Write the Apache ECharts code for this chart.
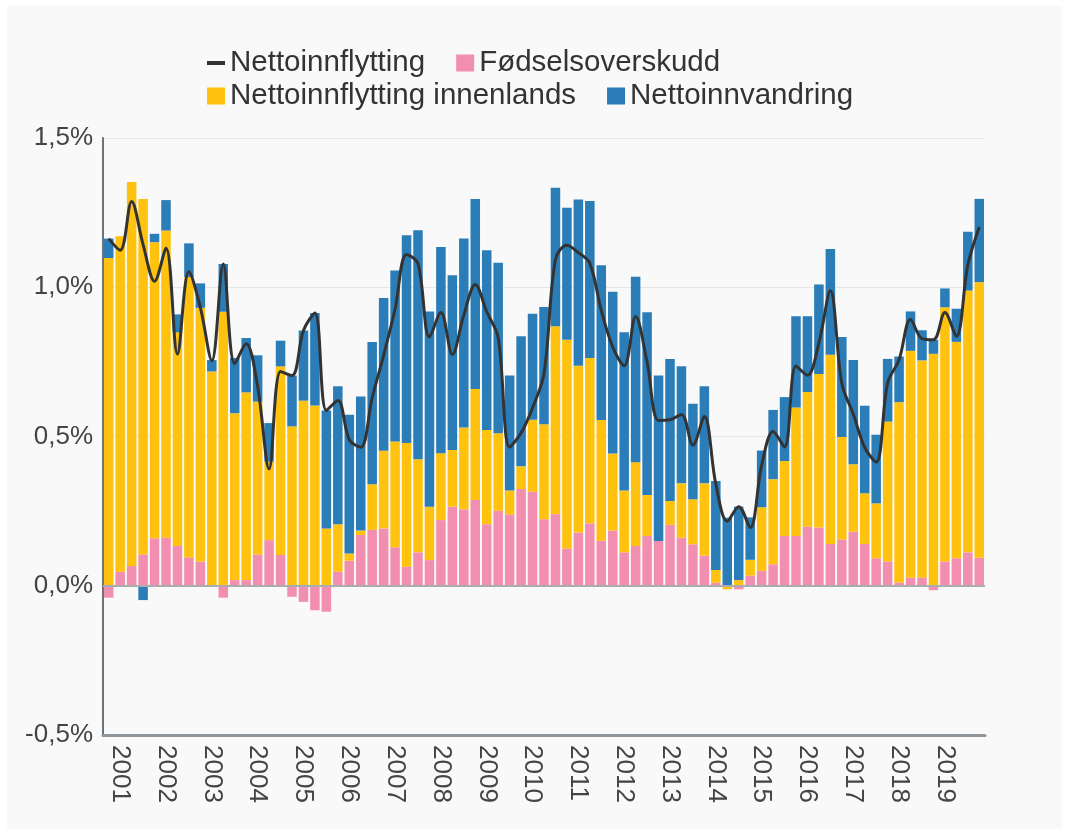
<!DOCTYPE html>
<html>
<head>
<meta charset="utf-8">
<script src="https://cdn.jsdelivr.net/npm/echarts@6/dist/echarts.min.js"></script>
<style>
  html, body { margin: 0; padding: 0; background: #ffffff; }
  #chart { position: absolute; left: 7px; top: 6px; width: 1055px; height: 823px; background: #f9f9f9; }
</style>
</head>
<body>
<div id="chart"></div>
<script>
// år på x-aksen (første kvartal er 2000K4)
const years = [2001, 2002, 2003, 2004, 2005, 2006, 2007, 2008, 2009, 2010,
  2011, 2012, 2013, 2014, 2015, 2016, 2017, 2018, 2019];

// prosent av folkemengden, per kvartal
const fodselsoverskudd = [
  -0.040, 0.047, 0.066, 0.105, 0.159, 0.161, 0.133, 0.095, 0.081, 0.002,
  -0.040, 0.019, 0.019, 0.105, 0.153, 0.103, -0.037, -0.054, -0.082, -0.087,
  0.047, 0.084, 0.170, 0.187, 0.192, 0.129, 0.064, 0.112, 0.086, 0.220,
  0.265, 0.256, 0.287, 0.206, 0.251, 0.239, 0.324, 0.315, 0.223, 0.240,
  0.125, 0.178, 0.209, 0.151, 0.185, 0.112, 0.133, 0.167, 0.150, 0.204,
  0.161, 0.139, 0.101, 0.010, 0.000, -0.012, 0.034, 0.050, 0.072, 0.167,
  0.167, 0.198, 0.195, 0.140, 0.155, 0.181, 0.140, 0.092, 0.081, 0.011,
  0.027, 0.028, -0.015, 0.081, 0.092, 0.112, 0.094
];

const innenlands = [
  1.098, 1.124, 1.287, 1.191, 0.992, 1.029, 0.716, 0.939, 0.850, 0.716,
  0.918, 0.559, 0.629, 0.512, 0.263, 0.632, 0.534, 0.620, 0.604, 0.192,
  0.159, 0.024, 0.015, 0.153, 0.260, 0.354, 0.414, 0.312, 0.179, 0.224,
  0.190, 0.274, 0.372, 0.316, 0.260, 0.080, 0.076, 0.241, 0.318, 0.629,
  0.699, 0.559, 0.554, 0.404, 0.258, 0.207, 0.281, 0.137, 0.000, 0.080,
  0.182, 0.151, 0.242, 0.043, -0.012, 0.019, 0.053, 0.213, 0.285, 0.251,
  0.430, 0.451, 0.514, 0.634, 0.343, 0.226, 0.170, 0.184, 0.469, 0.604,
  0.760, 0.727, 0.777, 0.852, 0.725, 0.877, 0.923
];

const innvandring = [
  0.065, 0.000, 0.000, -0.048, 0.028, 0.102, 0.060, 0.113, 0.082, 0.038,
  0.160, 0.185, 0.182, 0.155, 0.129, 0.086, 0.170, 0.235, 0.310, 0.395,
  0.462, 0.465, 0.449, 0.477, 0.512, 0.573, 0.696, 0.767, 0.654, 0.691,
  0.585, 0.633, 0.637, 0.602, 0.571, 0.385, 0.436, 0.355, 0.393, 0.464,
  0.442, 0.557, 0.526, 0.519, 0.542, 0.530, 0.621, 0.612, 0.554, 0.476,
  0.392, 0.320, 0.325, 0.298, 0.228, 0.246, 0.142, 0.190, 0.232, 0.214,
  0.306, 0.254, 0.300, 0.354, 0.335, 0.349, 0.293, 0.230, 0.210, 0.153,
  0.132, 0.101, 0.047, 0.063, 0.111, 0.197, 0.279
];

const nettoinnflytting = [
  1.163, 1.124, 1.287, 1.143, 1.020, 1.131, 0.776, 1.052, 0.932, 0.754,
  1.078, 0.744, 0.811, 0.667, 0.392, 0.718, 0.704, 0.855, 0.914, 0.587,
  0.621, 0.489, 0.464, 0.630, 0.772, 0.927, 1.110, 1.079, 0.833, 0.915,
  0.775, 0.907, 1.009, 0.918, 0.831, 0.465, 0.512, 0.596, 0.711, 1.093,
  1.141, 1.116, 1.080, 0.923, 0.800, 0.737, 0.902, 0.749, 0.554, 0.556,
  0.574, 0.471, 0.567, 0.341, 0.216, 0.265, 0.195, 0.403, 0.517, 0.465,
  0.736, 0.705, 0.814, 0.988, 0.678, 0.575, 0.463, 0.414, 0.679, 0.757,
  0.892, 0.828, 0.824, 0.915, 0.836, 1.074, 1.202
];

const yTicks = [-0.5, 0, 0.5, 1.0, 1.5];

// kvartalsetiketter
const kvartaler = ['2000K4'];
years.forEach(function (y) {
  for (let q = 1; q <= 4; q++) kvartaler.push(y + 'K' + q);
});

const FONT = '"Liberation Sans", Arial, sans-serif';

function legendRow(top, items) {
  return {
    left: 195, top: top,
    itemWidth: 18, itemHeight: 17, itemGap: 31,
    symbolKeepAspect: true,
    textStyle: { fontSize: 29.5, color: '#333', fontFamily: FONT, padding: [0, 0, 0, 0] },
    data: items
  };
}

function setChartOption() {
  return {
    animation: false,
    textStyle: { fontFamily: FONT },
    legend: [
      legendRow(37, [
        { name: 'Nettoinnflytting', icon: 'path://M0,0L18,0L18,4L0,4Z' },
        { name: 'Fødselsoverskudd', icon: 'rect' }
      ]),
      legendRow(70, [
        { name: 'Nettoinnflytting innenlands', icon: 'rect' },
        { name: 'Nettoinnvandring', icon: 'rect' }
      ])
    ],
    grid: { left: 96, right: 77, top: 132, bottom: 94 },
    xAxis: {
      type: 'category',
      data: kvartaler,
      axisLine: { onZero: false, lineStyle: { color: '#8f979c', width: 3 } },
      axisTick: { show: false },
      axisLabel: {
        interval: 0,
        rotate: -90,
        margin: 10,
        fontSize: 26,
        color: '#444',
        fontFamily: FONT,
        formatter: function (v) { return v.slice(4) === 'K1' ? v.slice(0, 4) : ''; }
      }
    },
    yAxis: {
      type: 'value',
      min: yTicks[0],
      max: yTicks[yTicks.length - 1],
      interval: 0.5,
      axisLine: { show: true, lineStyle: { color: '#6b7378', width: 2 } },
      axisTick: { show: false },
      splitLine: { lineStyle: { color: '#e4e7e8', width: 1 } },
      axisLabel: {
        fontSize: 26,
        color: '#444',
        margin: 10,
        fontFamily: FONT,
        formatter: function (v) { return v.toFixed(1).replace('.', ',') + '%'; }
      }
    },
    series: [
      {
        name: 'Fødselsoverskudd',
        type: 'bar',
        stack: 'tot',
        barCategoryGap: '17%',
        data: fodselsoverskudd,
        itemStyle: { color: '#f28fb1' },
        markLine: {
          silent: true,
          symbol: 'none',
          label: { show: false },
          lineStyle: { color: '#a9adb0', width: 2, type: 'solid' },
          data: [{ yAxis: 0 }]
        }
      },
      {
        name: 'Nettoinnflytting innenlands',
        type: 'bar',
        stack: 'tot',
        data: innenlands,
        itemStyle: { color: '#ffc20e' }
      },
      {
        name: 'Nettoinnvandring',
        type: 'bar',
        stack: 'tot',
        data: innvandring,
        itemStyle: { color: '#2b7db8' }
      },
      {
        name: 'Nettoinnflytting',
        type: 'line',
        data: nettoinnflytting,
        smooth: 0.35,
        symbol: 'none',
        z: 5,
        itemStyle: { color: '#333' },
        lineStyle: { color: '#333', width: 3 }
      }
    ]
  };
}

function initChart() {
  var myChart = echarts.init(document.getElementById('chart'));
  myChart.setOption(setChartOption());
  window.addEventListener('resize', function () {
    myChart.resize();
  });
}

initChart();
</script>
</body>
</html>
